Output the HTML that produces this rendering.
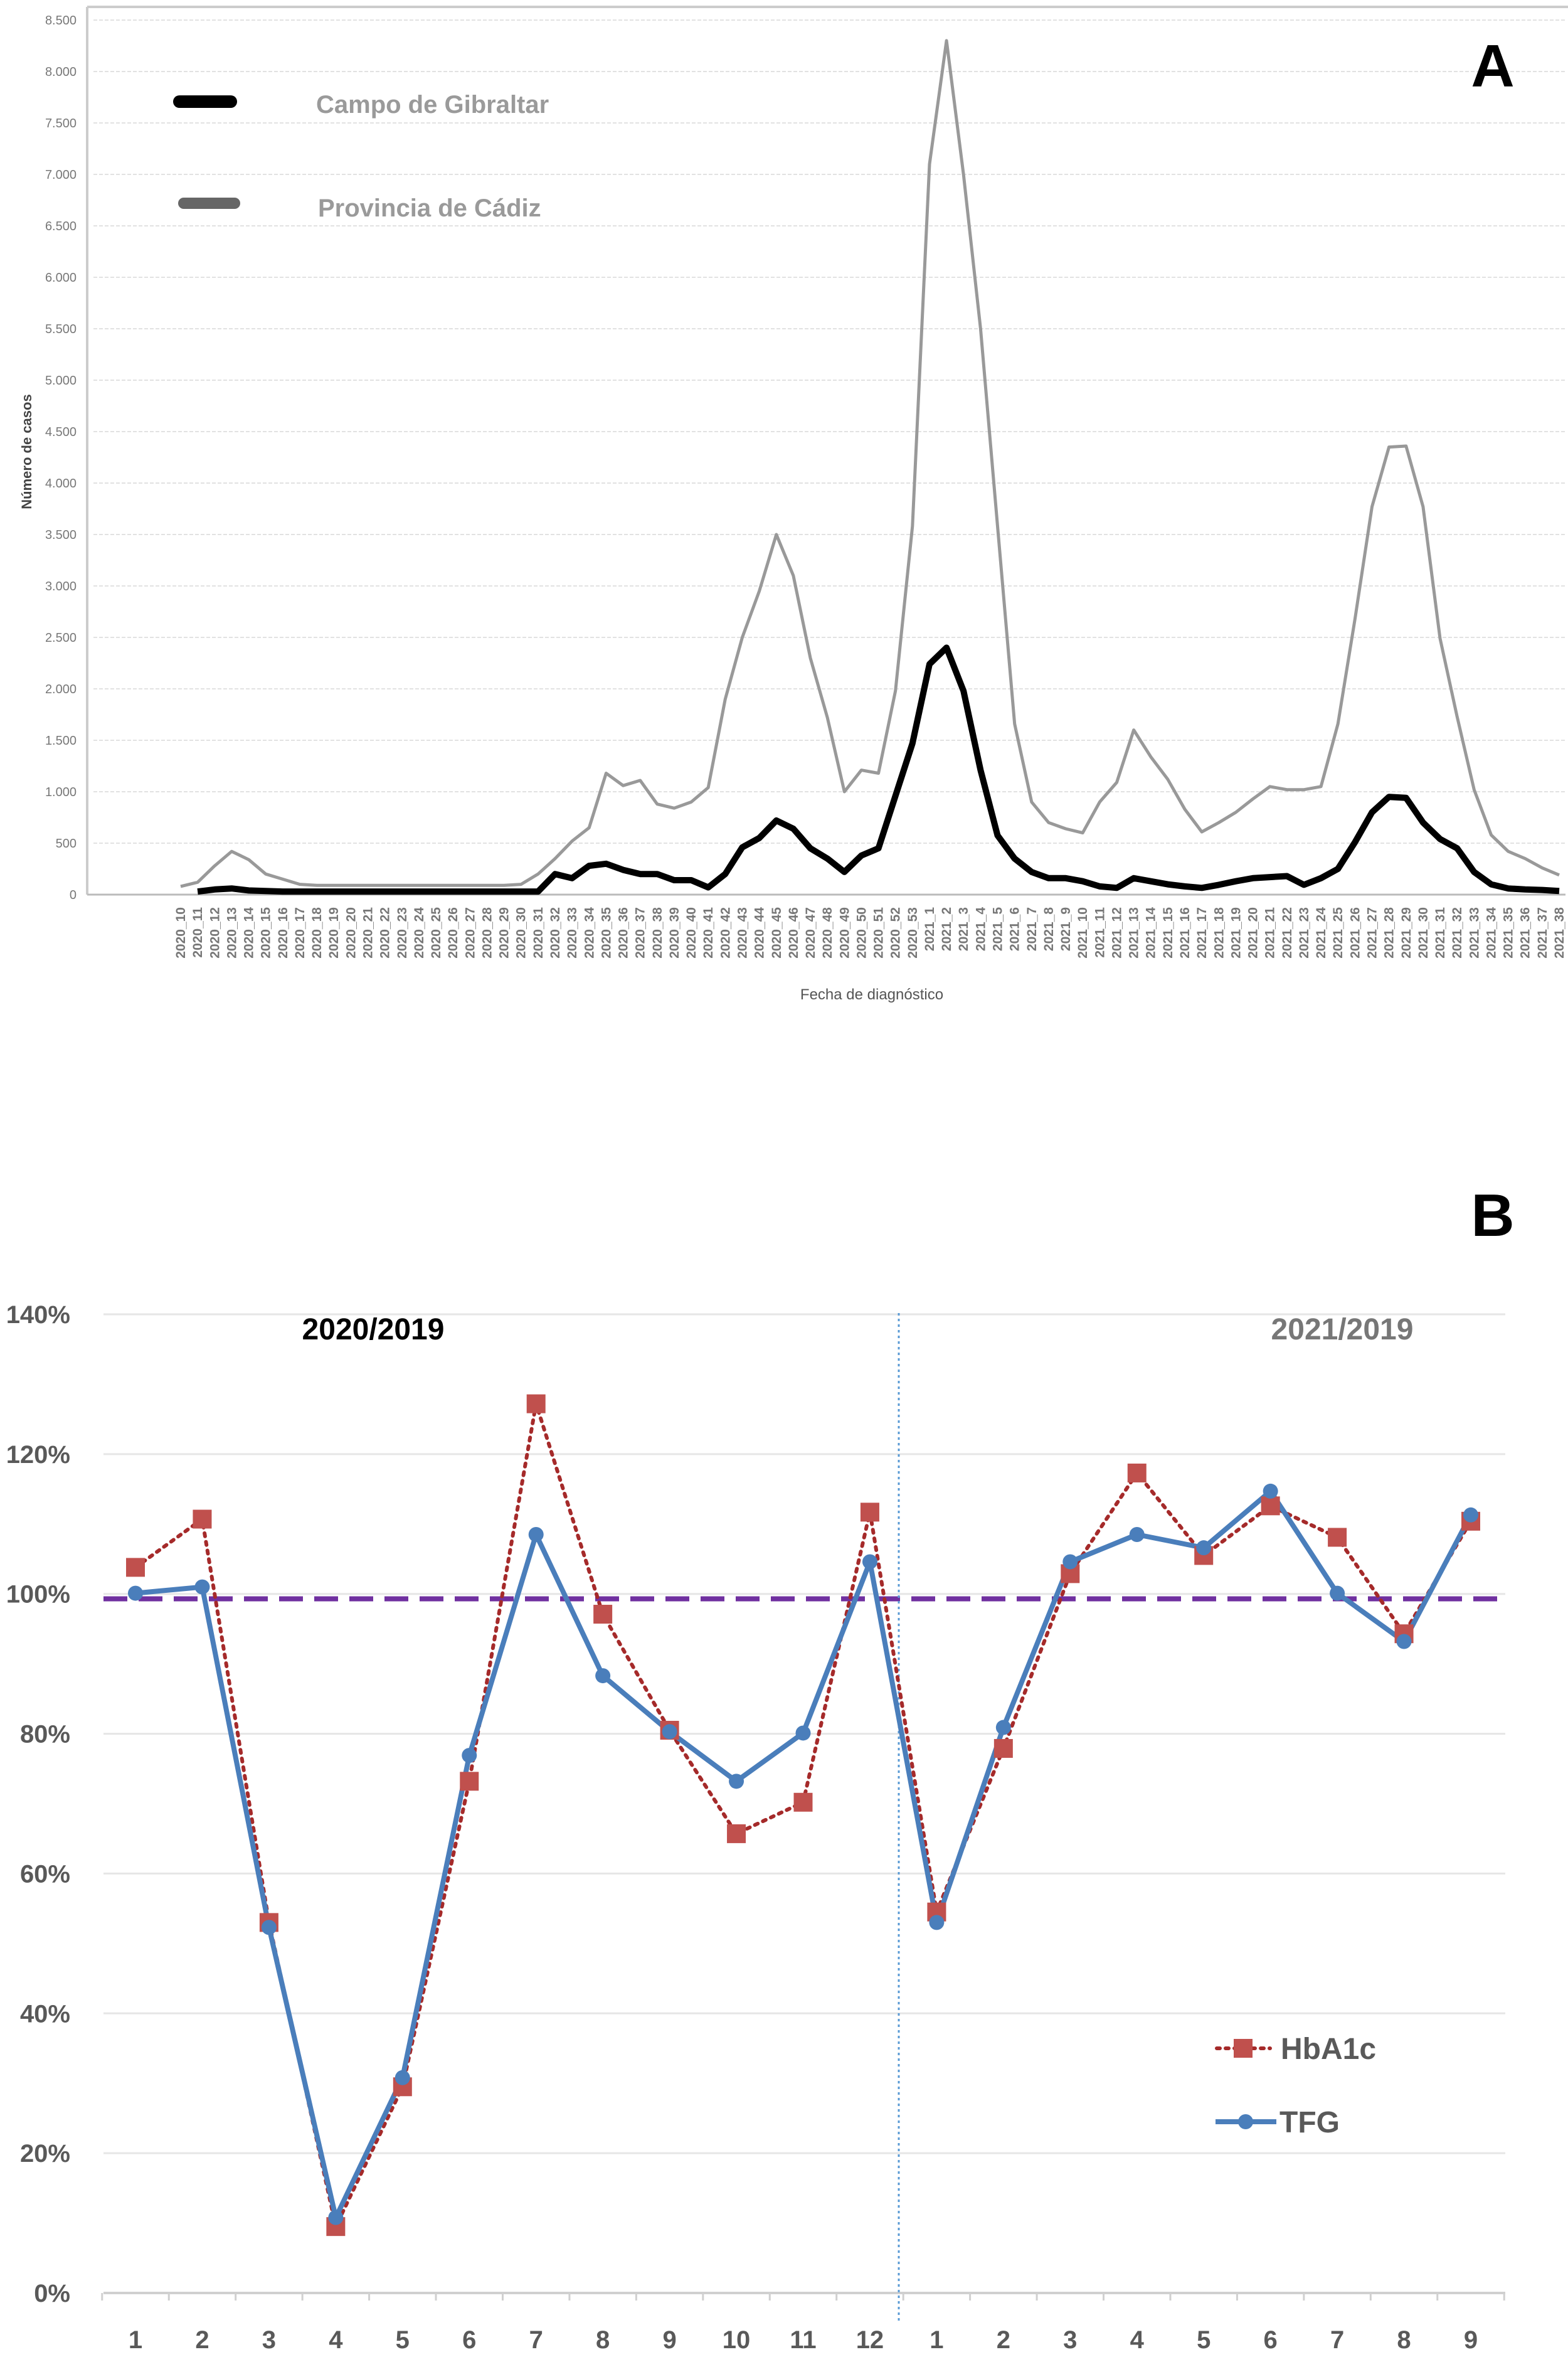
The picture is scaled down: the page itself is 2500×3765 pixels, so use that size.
<!DOCTYPE html>
<html><head><meta charset="utf-8"><style>
html,body{margin:0;padding:0;background:#fff;}
svg{display:block;font-family:"Liberation Sans",sans-serif;}
</style></head><body>
<svg id="chart" width="2500" height="3765" viewBox="0 0 2500 3765" xmlns="http://www.w3.org/2000/svg">
<g id="chartA"></g>
<g id="chartB"></g>
</svg>
<script>
const weeks = [];
for (let w = 10; w <= 53; w++) weeks.push('2020_' + w);
for (let w = 1; w <= 38; w++) weeks.push('2021_' + w);
const cadiz = [80,120,280,420,340,200,150,100,90,90,90,90,90,90,90,90,90,90,90,90,100,200,350,520,650,1180,1060,1110,880,840,900,1040,1900,2500,2950,3500,3100,2300,1720,1000,1210,1180,1980,3580,7100,8300,7000,5500,3580,1660,900,700,640,600,900,1090,1600,1340,1120,830,610,700,800,930,1050,1020,1020,1050,1660,2680,3770,4350,4360,3770,2490,1730,1020,580,420,350,260,190];
const gibraltar = [null,30,50,60,40,35,30,30,30,30,30,30,30,30,30,30,30,30,30,30,30,30,200,160,280,300,240,200,200,140,140,70,200,460,550,720,640,450,350,220,380,450,960,1470,2240,2400,1980,1210,575,350,220,160,160,130,80,65,160,130,100,80,65,95,130,160,170,180,95,160,250,510,800,950,940,700,540,450,220,100,60,50,45,35];
const yTicksA = [0,500,1000,1500,2000,2500,3000,3500,4000,4500,5000,5500,6000,6500,7000,7500,8000,8500];
const yTickLabelsA = ['0','500','1.000','1.500','2.000','2.500','3.000','3.500','4.000','4.500','5.000','5.500','6.000','6.500','7.000','7.500','8.000','8.500'];

const months = ['1','2','3','4','5','6','7','8','9','10','11','12','1','2','3','4','5','6','7','8','9'];
const hba1c = [103.8,110.7,53,9.5,29.5,73.2,127.2,97.1,80.5,65.7,70.2,111.7,54.5,77.9,102.9,117.3,105.5,112.6,108.1,94.3,110.4];
const tfg = [100.1,101,52.3,10.8,30.8,76.9,108.5,88.3,80.3,73.2,80.1,104.6,53,80.9,104.6,108.5,106.6,114.7,100.1,93.2,111.3];
const yTicksB = [0,20,40,60,80,100,120,140];
const refLine = [99.3];

const NS = 'http://www.w3.org/2000/svg';
function mk(parent, tag, attrs, text) {
  const e = document.createElementNS(NS, tag);
  for (const k in attrs) e.setAttribute(k, attrs[k]);
  if (text !== undefined) e.textContent = text;
  parent.appendChild(e);
  return e;
}

// ---------- Chart A ----------
const A = document.getElementById('chartA');
const axL = 139, axR = 2496, y0A = 1426, yTopA = 32;
const xA = i => 288 + i * (2486 - 288) / (weeks.length - 1);
const yA = v => y0A - v * (y0A - yTopA) / 8500;

let e = mk(A, 'line', {x1: axL, y1: 11, x2: 2500, y2: 11, stroke: '#ccc', 'stroke-width': 4});
 
e = mk(A, 'line', {x1: axL, y1: 11, x2: axL, y2: y0A, stroke: '#ccc', 'stroke-width': 4});
 
yTicksA.forEach((t, k) => {
  const y = yA(t);
  let g = mk(A, 'line', {x1: axL + 10, y1: y, x2: axR, y2: y, stroke: '#e2e2e2', 'stroke-width': 2, 'stroke-dasharray': '6 3'});
   
  let tl = mk(A, 'text', {x: 122, y: y + 7, 'text-anchor': 'end', 'font-size': 20, fill: '#777'}, yTickLabelsA[k]);
   
});
e = mk(A, 'line', {x1: axL, y1: y0A, x2: axR, y2: y0A, stroke: '#bbb', 'stroke-width': 3});
 
weeks.forEach((w, i) => {
  const x = xA(i);
  let tl = mk(A, 'text', {x: 0, y: 0, transform: `translate(${x + 7},1446) rotate(-90)`, 'text-anchor': 'end', 'font-size': 21, 'font-weight': 'bold', fill: '#777'}, w);
   
});
function pathFrom(arr, fx, fy) {
  let d = '', started = false;
  arr.forEach((v, i) => { if (v === null) return; d += (started ? 'L' : 'M') + fx(i).toFixed(1) + ',' + fy(v).toFixed(1); started = true; });
  return d;
}
e = mk(A, 'path', {d: pathFrom(cadiz, xA, yA), fill: 'none', stroke: '#999', 'stroke-width': 5, 'stroke-linejoin': 'round'});
 
e = mk(A, 'path', {d: pathFrom(gibraltar, xA, yA), fill: 'none', stroke: '#000', 'stroke-width': 10, 'stroke-linejoin': 'round'});
 
e = mk(A, 'line', {x1: 286, y1: 162, x2: 368, y2: 162, stroke: '#000', 'stroke-width': 20, 'stroke-linecap': 'round'});
 
e = mk(A, 'text', {x: 504, y: 180, 'font-size': 40, 'font-weight': 'bold', fill: '#9a9a9a'}, 'Campo de Gibraltar');
 
e = mk(A, 'line', {x1: 293, y1: 324, x2: 374, y2: 324, stroke: '#666', 'stroke-width': 18, 'stroke-linecap': 'round'});
 
e = mk(A, 'text', {x: 507, y: 345, 'font-size': 40, 'font-weight': 'bold', fill: '#9a9a9a'}, 'Provincia de Cádiz');
 
e = mk(A, 'text', {x: 0, y: 0, transform: 'translate(50,720) rotate(-90)', 'text-anchor': 'middle', 'font-size': 22, 'font-weight': 'bold', fill: '#444'}, 'Número de casos');
 
e = mk(A, 'text', {x: 1390, y: 1593, 'text-anchor': 'middle', 'font-size': 24, fill: '#555'}, 'Fecha de diagnóstico');
 
e = mk(A, 'text', {x: 2380, y: 138, 'text-anchor': 'middle', 'font-size': 96, 'font-weight': 'bold', fill: '#000'}, 'A');
 

// ---------- Chart B ----------
const B = document.getElementById('chartB');
const bL = 165, bR = 2400, y0B = 3655, yTopB = 2095;
const xB = i => 216 + i * (2345 - 216) / (months.length - 1);
const yB = v => y0B - v * (y0B - yTopB) / 140;
yTicksB.forEach(t => {
  const y = yB(t);
  let g = mk(B, 'line', {x1: bL, y1: y, x2: bR, y2: y, stroke: t === 0 ? '#d0d0d0' : '#e6e6e6', 'stroke-width': t === 0 ? 4 : 3});
   
  let tl = mk(B, 'text', {x: 112, y: y + 14, 'text-anchor': 'end', 'font-size': 40, 'font-weight': 'bold', fill: '#595959'}, t + '%');
   
});
for (let i = 0; i <= months.length; i++) {
  const x = xB(i) - (xB(1) - xB(0)) / 2;
  let tk = mk(B, 'line', {x1: x, y1: y0B, x2: x, y2: y0B + 12, stroke: '#d0d0d0', 'stroke-width': 3});
   
}
months.forEach((m, i) => {
  let tl = mk(B, 'text', {x: xB(i), y: 3743, 'text-anchor': 'middle', 'font-size': 40, 'font-weight': 'bold', fill: '#595959'}, m);
   
});
e = mk(B, 'line', {x1: bL, y1: yB(refLine[0]), x2: bR, y2: yB(refLine[0]), stroke: '#7030a0', 'stroke-width': 8, 'stroke-dasharray': '38 18'});
 
e = mk(B, 'line', {x1: 1433, y1: 2093, x2: 1433, y2: 3700, stroke: '#5b9bd5', 'stroke-width': 3, 'stroke-dasharray': '4 5'});
 
e = mk(B, 'path', {d: pathFrom(hba1c, xB, yB), fill: 'none', stroke: '#a52a2a', 'stroke-width': 6, 'stroke-dasharray': '5 9', 'stroke-linecap': 'round'});
 
e = mk(B, 'path', {d: pathFrom(tfg, xB, yB), fill: 'none', stroke: '#4a7ebb', 'stroke-width': 8, 'stroke-linejoin': 'round'});
 
hba1c.forEach((v, i) => {
  let s = mk(B, 'rect', {x: xB(i) - 15, y: yB(v) - 15, width: 30, height: 30, fill: '#c0504d'});
   
});
tfg.forEach((v, i) => {
  let c = mk(B, 'circle', {cx: xB(i), cy: yB(v), r: 12, fill: '#4a7ebb'});
   
});
e = mk(B, 'text', {x: 595, y: 2135, 'text-anchor': 'middle', 'font-size': 48, 'font-weight': 'bold', fill: '#000'}, '2020/2019');
 
e = mk(B, 'text', {x: 2140, y: 2135, 'text-anchor': 'middle', 'font-size': 48, 'font-weight': 'bold', fill: '#777'}, '2021/2019');
 
e = mk(B, 'text', {x: 2380, y: 1970, 'text-anchor': 'middle', 'font-size': 96, 'font-weight': 'bold', fill: '#000'}, 'B');
 
e = mk(B, 'line', {x1: 1940, y1: 3265, x2: 2025, y2: 3265, stroke: '#a52a2a', 'stroke-width': 6, 'stroke-dasharray': '5 9', 'stroke-linecap': 'round'});
 
e = mk(B, 'rect', {x: 1967, y: 3250, width: 30, height: 30, fill: '#c0504d'});
 
e = mk(B, 'text', {x: 2042, y: 3282, 'font-size': 48, 'font-weight': 'bold', fill: '#595959'}, 'HbA1c');
 
e = mk(B, 'line', {x1: 1938, y1: 3382, x2: 2035, y2: 3382, stroke: '#4a7ebb', 'stroke-width': 8});
 
e = mk(B, 'circle', {cx: 1986, cy: 3382, r: 12, fill: '#4a7ebb'});
 
e = mk(B, 'text', {x: 2040, y: 3399, 'font-size': 48, 'font-weight': 'bold', fill: '#595959'}, 'TFG');
 
</script>
</body></html>
